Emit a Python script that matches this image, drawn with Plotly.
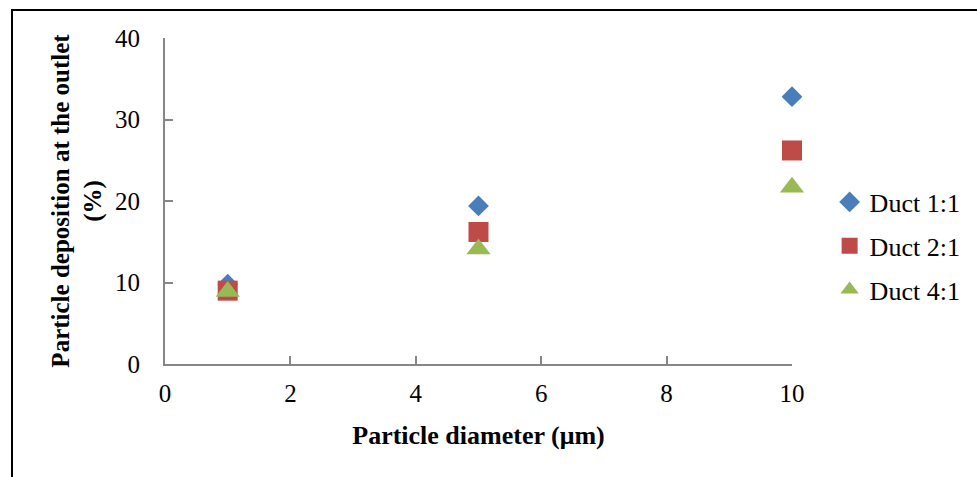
import plotly.graph_objects as go

diameters = [1, 5, 10]
duct_1_1 = [9.8, 19.4, 32.8]
duct_2_1 = [9.0, 16.2, 26.2]
duct_4_1 = [8.9, 14.1, 21.7]
series_names = ["Duct 1:1", "Duct 2:1", "Duct 4:1"]
x_ticks = [0, 2, 4, 6, 8, 10]
y_ticks = [0, 10, 20, 30, 40]

colors = ["#4a7ebb", "#be4b48", "#98b954"]
symbols = ["diamond", "square", "triangle-up"]
sizes = [16, 20, 21]

fig = go.Figure()
for i, (name, vals, c, s, sz) in enumerate(zip(series_names, [duct_1_1, duct_2_1, duct_4_1], colors, symbols, sizes)):
    fig.add_trace(go.Scatter(x=diameters, y=vals, mode="markers", name=name, legendgroup=f"g{i}",
                             cliponaxis=False,
                             marker=dict(color=c, symbol=s, size=sz, line=dict(width=0))))

font_family = "Liberation Serif, Times New Roman, serif"
fig.update_layout(
    width=977, height=477,
    margin=dict(l=165, r=185, t=38, b=113, autoexpand=False),
    paper_bgcolor="white", plot_bgcolor="white",
    font=dict(family=font_family, size=25, color="black"),
    showlegend=True,
    legend=dict(x=1.06, y=0.362, xanchor="left", yanchor="middle",
                font=dict(size=26), itemsizing="trace", tracegroupgap=7,
                bgcolor="rgba(0,0,0,0)"),
    xaxis=dict(range=[0, 10], tickvals=x_ticks, ticks="inside", ticklen=8, tickwidth=2,
               tickcolor="#868686", showline=True, linecolor="#868686", linewidth=2,
               showgrid=False, zeroline=False, tickfont=dict(size=25), ticklabelstandoff=6,
               title=dict(text="<b>Particle diameter (μm)</b>", font=dict(size=26), standoff=20)),
    yaxis=dict(range=[0, 40], tickvals=y_ticks, ticks="inside", ticklen=8, tickwidth=2,
               tickcolor="#868686", showline=True, linecolor="#868686", linewidth=2,
               showgrid=False, zeroline=False, tickfont=dict(size=25), ticklabelstandoff=18,
               title=dict(text="<b>Particle deposition at the outlet<br>(%)</b>", font=dict(size=25), standoff=6)),
)

fig.add_shape(type="rect", xref="paper", yref="paper",
              x0=(12 - 165) / 627, x1=1.5, y0=-0.6, y1=(364 - 10) / 326,
              line=dict(color="black", width=2), fillcolor="rgba(0,0,0,0)", layer="below")

fig.write_html("out.html", config={"displayModeBar": False},
               post_script="document.body.style.margin='0';")
